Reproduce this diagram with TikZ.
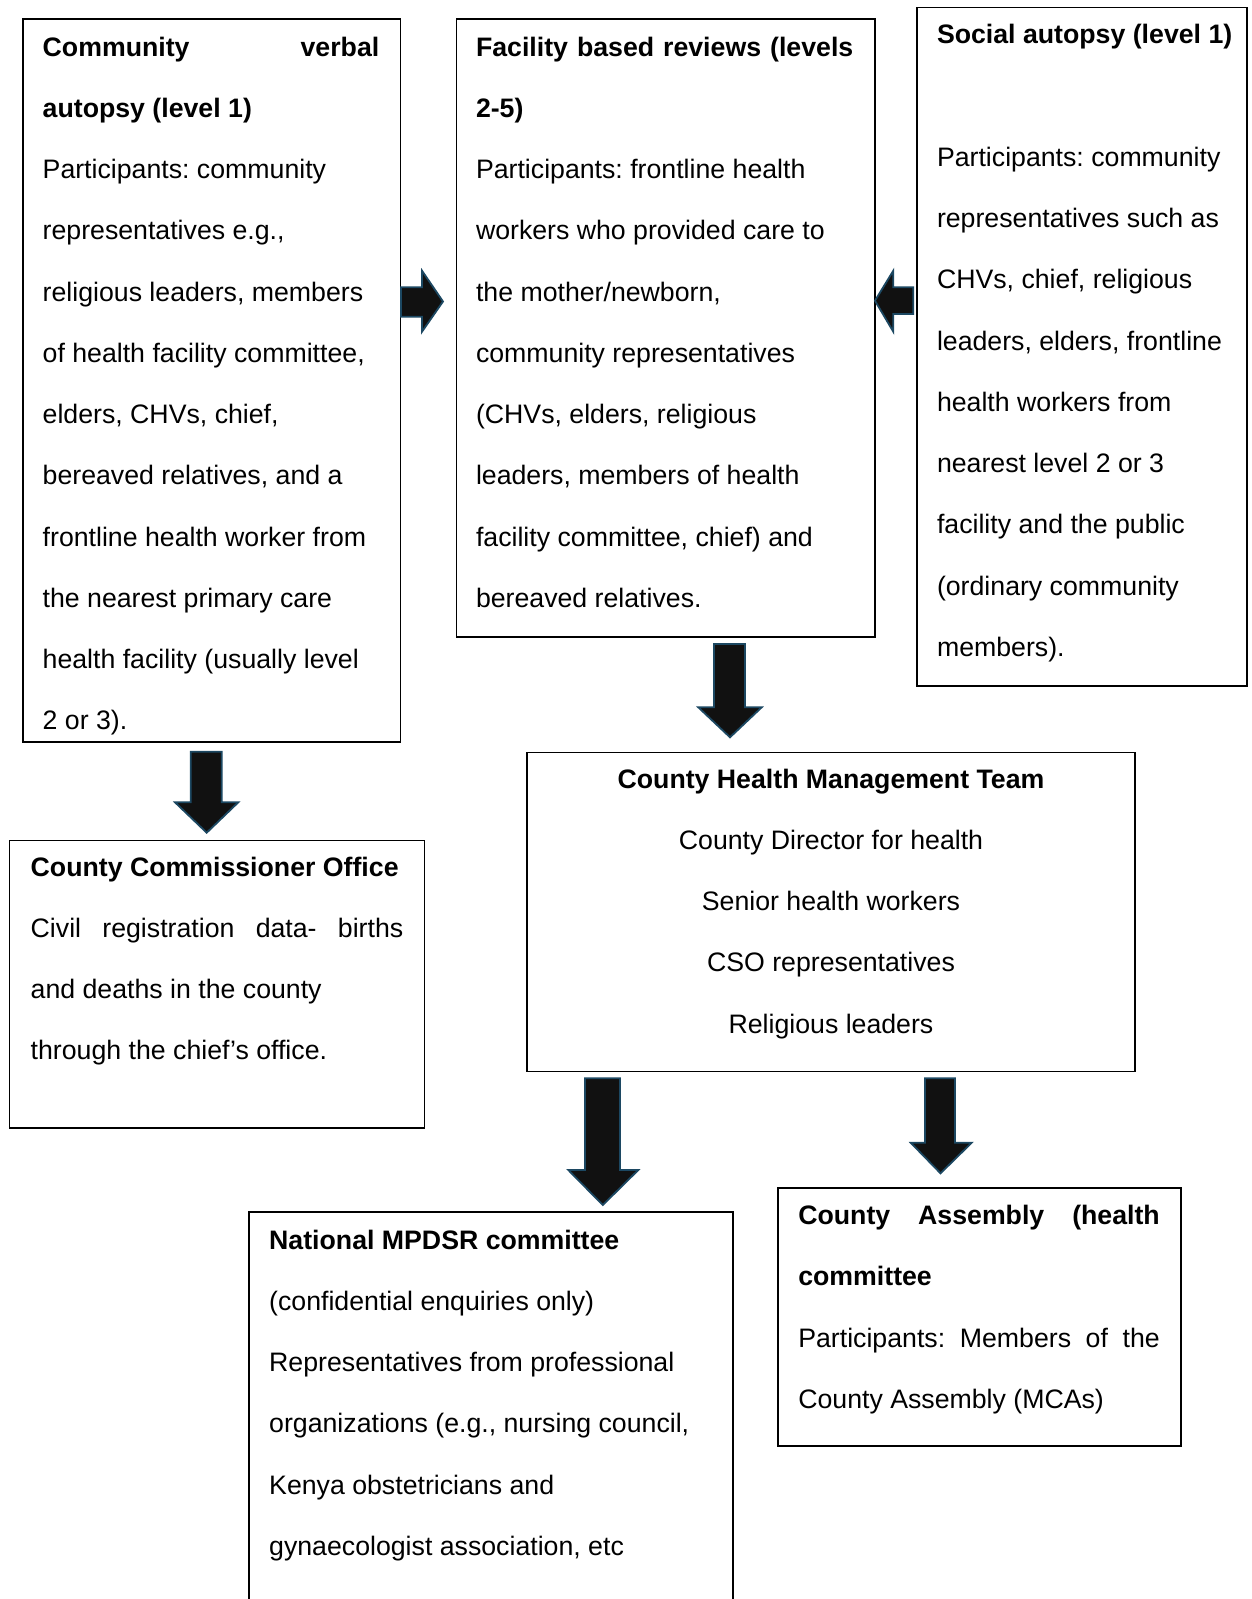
\documentclass[tikz,border=0pt]{standalone}
\usepackage{fontspec}
\setmainfont{Liberation Sans}
\definecolor{arrowedge}{RGB}{28,72,98}
\definecolor{arrowfill}{RGB}{17,17,17}
\tikzset{
  box/.style={draw=black, line width=1.6pt, inner sep=0pt, outer sep=0pt, anchor=north west},
  txt/.style={inner sep=0pt, outer sep=0pt, anchor=base west, text=black},
  ctxt/.style={inner sep=0pt, outer sep=0pt, anchor=base, text=black},
  blockarrow/.style={fill=arrowfill, draw=arrowedge, line width=1.8pt, line join=miter},
}
\newcommand\bodyfont{\frenchspacing\fontsize{26.7pt}{61.27pt}\selectfont}
\newcommand\jline[1]{\makebox[\linewidth][s]{#1}}
\begin{document}
\begin{tikzpicture}[x=1pt, y=-1pt]
\useasboundingbox (0,0) rectangle (1251,1599);
\clip (0,0) rectangle (1251,1599);
\fill[white] (0,0) rectangle (1251,1599);

% boxes
\node[box, minimum width=377.8pt, minimum height=723pt] (b1) at (22.7,19) {};
\node[box, minimum width=418.5pt, minimum height=618pt] (b2) at (456.5,19) {};
\node[box, minimum width=330.3pt, minimum height=678.7pt] (b3) at (916.7,7.3) {};
\node[box, minimum width=415.2pt, minimum height=287.2pt] (b4) at (9.3,840.5) {};
\node[box, minimum width=608pt, minimum height=319.1pt] (b5) at (527,752.5) {};
\node[box, minimum width=484.2pt, minimum height=420pt] (b6) at (248.8,1212) {};
\node[box, minimum width=403pt, minimum height=257.8pt] (b7) at (778,1188) {};

% texts
\node[txt] (t1) at (42.7,56) {\parbox[t]{336.6pt}{\bodyfont\bfseries
  \jline{Community verbal}\\
  autopsy (level 1)\\
  \mdseries Participants: community\\
  representatives e.g.,\\
  religious leaders, members\\
  of health facility committee,\\
  elders, CHVs, chief,\\
  bereaved relatives, and a\\
  frontline health worker from\\
  the nearest primary care\\
  health facility (usually level\\
  2 or 3).}};

\node[txt] (t2) at (476,56) {\parbox[t]{377.3pt}{\bodyfont\bfseries
  \jline{Facility based reviews (levels}\\
  2-5)\\
  \mdseries Participants: frontline health\\
  workers who provided care to\\
  the mother/newborn,\\
  community representatives\\
  (CHVs, elders, religious\\
  leaders, members of health\\
  facility committee, chief) and\\
  bereaved relatives.}};

\node[txt] (t3) at (937,43.5) {\parbox[t]{300pt}{\bodyfont\bfseries
  Social autopsy (level 1)\\[61.5pt]
  \mdseries Participants: community\\
  representatives such as\\
  CHVs, chief, religious\\
  leaders, elders, frontline\\
  health workers from\\
  nearest level 2 or 3\\
  facility and the public\\
  (ordinary community\\
  members).}};

\node[txt] (t4) at (30.7,876) {\parbox[t]{372.6pt}{\bodyfont\bfseries
  County Commissioner Office\\
  \mdseries\jline{Civil registration data- births}\\
  and deaths in the county\\
  through the chief’s office.}};

\node[ctxt] (t5) at (831,788) {\parbox[t]{580pt}{\centering\bodyfont\bfseries
  County Health Management Team\\
  \mdseries County Director for health\\
  Senior health workers\\
  CSO representatives\\
  Religious leaders}};

\node[txt] (t6) at (269.2,1249) {\parbox[t]{450pt}{\bodyfont\bfseries
  National MPDSR committee\\
  \mdseries (confidential enquiries only)\\
  Representatives from professional\\
  organizations (e.g., nursing council,\\
  Kenya obstetricians and\\
  gynaecologist association, etc}};

\node[txt] (t7) at (798.3,1224.5) {\parbox[t]{361.5pt}{\bodyfont\bfseries
  \jline{County Assembly (health}\\
  committee\\
  \mdseries\jline{Participants: Members of the}\\
  County Assembly (MCAs)}};

% block arrows
\draw[blockarrow] (401,287.3) -- (422,287.3) -- (422,270.7) -- (443,301.5) -- (422,331.7) -- (422,316.7) -- (401,316.7) -- cycle;
\draw[blockarrow] (913.3,287.3) -- (893.3,287.3) -- (893.3,270.7) -- (875,300.7) -- (893.3,331.7) -- (893.3,314) -- (913.3,314) -- cycle;
\draw[blockarrow] (714,644) -- (745,644) -- (745,707.3) -- (761.7,707.3) -- (730,737.3) -- (698.3,707.3) -- (714,707.3) -- cycle;
\draw[blockarrow] (190.7,751.7) -- (221.7,751.7) -- (221.7,802.3) -- (238.3,802.3) -- (206.7,832.7) -- (175,802.3) -- (190.7,802.3) -- cycle;
\draw[blockarrow] (585,1078.3) -- (620,1078.3) -- (620,1170) -- (638.3,1170) -- (602.8,1205) -- (568.3,1170) -- (585,1170) -- cycle;
\draw[blockarrow] (925,1078.3) -- (955,1078.3) -- (955,1142.7) -- (971.7,1142.7) -- (940.5,1173.3) -- (910.7,1142.7) -- (925,1142.7) -- cycle;
\end{tikzpicture}
\end{document}
